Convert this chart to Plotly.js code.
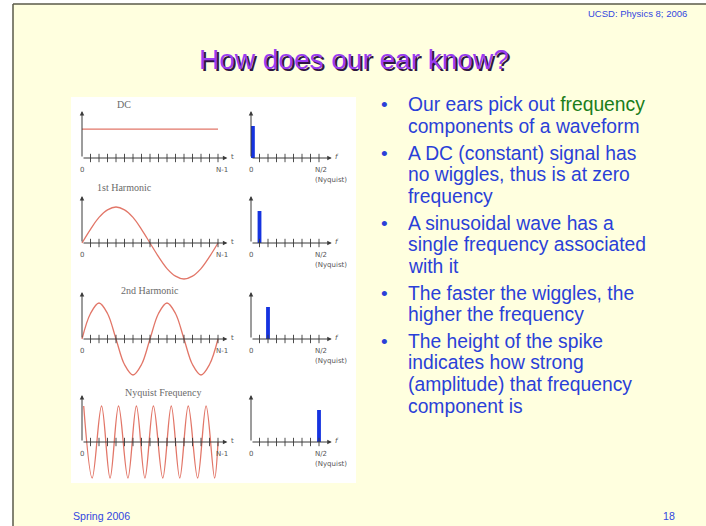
<!DOCTYPE html>
<html><head><meta charset="utf-8">
<script src="https://cdn.plot.ly/plotly-3.0.1.min.js"></script>
<style>html,body{margin:0;padding:0;background:#fff;}#chart{width:706px;height:526px;}</style>
</head><body><div id="chart"></div>
<script>
// ---------------- data ----------------
const sampleIdx = [0,1,2,3,4,5,6,7,8,9,10,11,12,13,14,15,16];
const dcT = [0,16];
const dcWave = [0.8,0.8];
const harm1Wave = [0,0.38,0.71,0.92,1,0.92,0.71,0.38,0,-0.38,-0.71,-0.92,-1,-0.92,-0.71,-0.38,0];
const harm2Wave = [0,0.71,1,0.71,0,-0.71,-1,-0.71,0,0.71,1,0.71,0,-0.71,-1,-0.71,0];
const nyqT = [0.2,1.2,2.3,3.3,4.3,5.4,6.4,7.4,8.4,9.5,10.5,11.5,12.5,13.6,14.6,15.6,16];
const nyqWave = [1,-1,1,-1,1,-1,1,-1,1,-1,1,-1,1,-1,1,-1,0];
const spectrumBin = [0,1,2,8];          // DC, 1st, 2nd, Nyquist
const spectrumAmp = [1,1,1,1];
const rowTitles = ['DC','1st Harmonic','2nd Harmonic','Nyquist Frequency'];
const waveTickVals = [0,16];
const waveTickText = ['0','N-1'];
const waveMinorTicks = [1,2,3,4,5,6,7,8,9,10,11,12,13,14,15,16];
const specTickVals = [0,8];
const specTickText = ['0','N/2'];
const specMinorTicks = [1,2,3,4,5,6,7,8];
const slideTitle = 'How does our ear know?';
const headerText = 'UCSD: Physics 8; 2006';
const footerLeft = 'Spring 2006';
const footerRight = '18';
const bullets = [
  ['Our ears pick out <span style="color:#1a7d1a">frequency</span>','components of a waveform'],
  ['A DC (constant) signal has','no wiggles, thus is at zero','frequency'],
  ['A sinusoidal wave has a','single frequency associated','with it'],
  ['The faster the wiggles, the','higher the frequency'],
  ['The height of the spike','indicates how strong','(amplitude) that frequency','component is']
];

// ---------------- layout helpers ----------------
const W = 706, H = 526;
const PX = x => x / W;
const PY = y => 1 - y / H;
const axisYpx = [158, 243, 339, 442];
const titlePos = [[124,104],[124,188],[150,290],[163,392]];
const waveX0 = 82, waveUnit = 8.5, waveAmpPx = 36;
const specX0 = 251, specUnit = 8.5, specAmpPx = 32;
const ABOVE = 56, BELOW = 46;
const waveColor = 'rgb(226,118,104)';
const barColor = '#1533e0';
const axColor = '#3a3a3a';
const labelFont = {family:'"DejaVu Sans", sans-serif', size:7, color:'#555'};
const titleFontSmall = {family:'"Liberation Serif", serif', size:10, color:'#6a6a6a'};

const traces = [];
const layout = {
  width: W, height: H,
  margin: {l:0, r:0, t:0, b:0},
  paper_bgcolor: '#ffffff',
  plot_bgcolor: 'rgba(0,0,0,0)',
  showlegend: false,
  shapes: [
    {type:'rect', xref:'paper', yref:'paper', x0:PX(13), x1:1, y0:0, y1:PY(4), fillcolor:'#ffffdf', line:{width:0}, layer:'below'},
    {type:'line', xref:'paper', yref:'paper', x0:PX(13), x1:1, y0:PY(4), y1:PY(4), line:{color:'#5a5a48', width:1.5}},
    {type:'line', xref:'paper', yref:'paper', x0:PX(13), x1:PX(13), y0:0, y1:PY(4), line:{color:'#5a5a48', width:1.5}},
    {type:'rect', xref:'paper', yref:'paper', x0:PX(71), x1:PX(356), y0:PY(483), y1:PY(97), fillcolor:'#ffffff', line:{width:0}, layer:'below'}
  ],
  annotations: []
};

function ax(n, dir) { return (dir === 'x' ? 'x' : 'y') + (n === 1 ? '' : n); }
function axKey(n, dir) { return (dir === 'x' ? 'xaxis' : 'yaxis') + (n === 1 ? '' : n); }
function txt(o) { return Object.assign({showarrow:false, xanchor:'center', yanchor:'middle'}, o); }

for (let r = 0; r < 4; r++) {
  const ay = axisYpx[r];
  const nW = 2*r + 1, nS = 2*r + 2;
  const yDom = [PY(ay + BELOW), PY(ay - ABOVE)];
  layout[axKey(nW,'x')] = {domain:[PX(74), PX(242)], range:[(74-waveX0)/waveUnit, (242-waveX0)/waveUnit], visible:false, fixedrange:true};
  layout[axKey(nW,'y')] = {domain:yDom, range:[-BELOW/waveAmpPx, ABOVE/waveAmpPx], visible:false, fixedrange:true};
  layout[axKey(nS,'x')] = {domain:[PX(244), PX(350)], range:[(244-specX0)/specUnit, (350-specX0)/specUnit], visible:false, fixedrange:true};
  layout[axKey(nS,'y')] = {domain:yDom, range:[-BELOW/specAmpPx, ABOVE/specAmpPx], visible:false, fixedrange:true};

  let wx, wy, shape = 'spline';
  if (r === 0) { wx = dcT; wy = dcWave; shape = 'linear'; }
  else if (r === 1) { wx = sampleIdx; wy = harm1Wave; }
  else if (r === 2) { wx = sampleIdx; wy = harm2Wave; }
  else { wx = nyqT; wy = nyqWave; }
  traces.push({type:'scatter', mode:'lines', x:wx, y:wy, xaxis:ax(nW,'x'), yaxis:ax(nW,'y'),
    line:{color:waveColor, width:1.3, shape:shape, smoothing:1}, hoverinfo:'skip'});
  traces.push({type:'scatter', mode:'markers', x:waveMinorTicks, y:waveMinorTicks.map(()=>0), xaxis:ax(nW,'x'), yaxis:ax(nW,'y'),
    marker:{symbol:'line-ns-open', size:6, color:axColor, line:{width:0.9, color:axColor}}, hoverinfo:'skip'});

  traces.push({type:'bar', x:[spectrumBin[r]], y:[spectrumAmp[r]], xaxis:ax(nS,'x'), yaxis:ax(nS,'y'),
    width:0.45, offset: (spectrumBin[r] === 0 ? 0 : -0.225), marker:{color:barColor, line:{width:0}}, hoverinfo:'skip'});
  traces.push({type:'scatter', mode:'markers', x:specMinorTicks, y:specMinorTicks.map(()=>0), xaxis:ax(nS,'x'), yaxis:ax(nS,'y'),
    marker:{symbol:'line-ns-open', size:6, color:axColor, line:{width:0.9, color:axColor}}, hoverinfo:'skip'});

  const arrow = (n, x, y, axv, ayv) => ({xref:ax(n,'x'), yref:ax(n,'y'), axref:ax(n,'x'), ayref:ax(n,'y'),
    x:x, y:y, ax:axv, ay:ayv, text:'', showarrow:true, arrowhead:2, arrowsize:0.9, arrowwidth:1, arrowcolor:axColor, standoff:0, startstandoff:0});
  layout.annotations.push(arrow(nW, 17.1, 0, 0, 0));
  layout.annotations.push(arrow(nW, 0, 47/waveAmpPx, 0, 0));
  layout.annotations.push(arrow(nS, 9.5, 0, 0, 0));
  layout.annotations.push(arrow(nS, 0, 47/specAmpPx, 0, 0));

  layout.annotations.push(txt({xref:ax(nW,'x'), yref:ax(nW,'y'), x:waveTickVals[0], y:0, yshift:-12, text:waveTickText[0], font:labelFont}));
  layout.annotations.push(txt({xref:ax(nW,'x'), yref:ax(nW,'y'), x:waveTickVals[1], y:0, xshift:4, yshift:-12, text:waveTickText[1], font:labelFont}));
  layout.annotations.push(txt({xref:ax(nW,'x'), yref:ax(nW,'y'), x:17.1, y:0, xshift:5, yshift:1, text:'t', font:labelFont}));
  layout.annotations.push(txt({xref:ax(nS,'x'), yref:ax(nS,'y'), x:specTickVals[0], y:0, yshift:-12, text:specTickText[0], font:labelFont}));
  layout.annotations.push(txt({xref:ax(nS,'x'), yref:ax(nS,'y'), x:specTickVals[1], y:0, xshift:-6, yshift:-12, xanchor:'left', text:specTickText[1], font:labelFont}));
  layout.annotations.push(txt({xref:ax(nS,'x'), yref:ax(nS,'y'), x:specTickVals[1], y:0, xshift:-6, yshift:-22, xanchor:'left', text:'(Nyquist)', font:labelFont}));
  layout.annotations.push(txt({xref:ax(nS,'x'), yref:ax(nS,'y'), x:9.5, y:0, xshift:5, yshift:1, text:'<i>f</i>', font:labelFont}));

  layout.annotations.push(txt({xref:'paper', yref:'paper', x:PX(titlePos[r][0]), y:PY(titlePos[r][1]), text:rowTitles[r], font:titleFontSmall}));
}

const sans = 'Arial, "Liberation Sans", sans-serif';
layout.annotations.push(txt({xref:'paper', yref:'paper', x:PX(689), y:PY(13), xanchor:'right', text:headerText, font:{family:sans, size:9.5, color:'#3347e0'}}));
layout.annotations.push(txt({xref:'paper', yref:'paper', x:PX(354), y:PY(60), text:slideTitle, font:{family:sans, size:28, color:'#9a3cf0', shadow:'2px 2px 0px #2e1640'}}));
layout.annotations.push(txt({xref:'paper', yref:'paper', x:PX(71), y:PY(516), xanchor:'left', text:footerLeft, font:{family:sans, size:10.6, color:'#3347e0'}}));
layout.annotations.push(txt({xref:'paper', yref:'paper', x:PX(677), y:PY(516), xanchor:'right', text:footerRight, font:{family:sans, size:10.6, color:'#3347e0'}}));

const bulletStartY = [105, 153, 223, 293, 341];
const lineGap = 21.7;
const bulletColor = '#2a3fd8';
bullets.forEach((lines, i) => {
  layout.annotations.push(txt({xref:'paper', yref:'paper', x:PX(384), y:PY(bulletStartY[i]), text:'•', font:{family:sans, size:19, color:bulletColor}}));
  lines.forEach((ln, j) => {
    layout.annotations.push(txt({xref:'paper', yref:'paper', x:PX(406), y:PY(bulletStartY[i] + j*lineGap), xanchor:'left', text:ln, font:{family:sans, size:19.3, color:bulletColor}}));
  });
});

Plotly.newPlot('chart', traces, layout, {staticPlot:true, displayModeBar:false});
</script>
</body></html>
